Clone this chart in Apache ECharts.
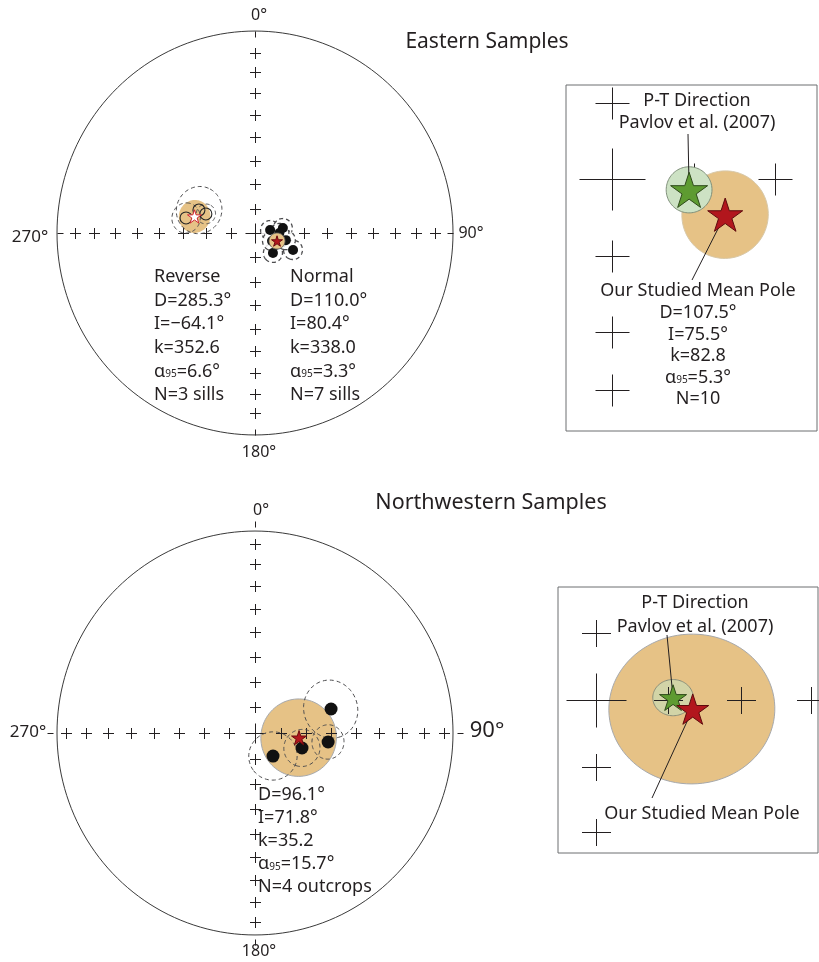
<!DOCTYPE html>
<html>
<head>
<meta charset="utf-8">
<script src="https://cdn.jsdelivr.net/npm/echarts@6/dist/echarts.min.js"></script>
<style>
  html, body { margin: 0; padding: 0; background: #fff; }
  #chart { width: 819px; height: 962px; }
</style>
</head>
<body>
<div id="chart"></div>
<script>
// ---------------- data ----------------
const azimuthLabels = ['0°', '90°', '180°', '270°'];
const graticuleInc = [80, 70, 60, 50, 40, 30, 20, 10];

// Eastern samples, site means: [declination, inclination, alpha95]
const eastNormalSites = [[138, 79.0, 3.9], [114, 72.9, 3.9], [79, 83.7, 3.9], [80, 78.4, 3.9],
                         [115, 82.3, 3.9], [103, 77.0, 3.9], [90, 80.0, 3.9]];
const eastReverseSites = [[282.3, -60.8, 6.0], [292.3, -65.0, 9.5], [291.2, -68.3, 4.0]];
// polarity means: [D, I, k, alpha95, N]
const eastNormalStat = [110.0, 80.4, 338.0, 3.3, 7];
const eastReverseStat = [285.3, -64.1, 352.6, 6.6, 3];
// combined eastern mean pole and the P-T reference direction (Pavlov et al., 2007)
const eastMeanStat = [107.5, 75.5, 82.8, 5.3, 10];
const ptDirectionEast = [98, 80.5, 2.8];

// Northwestern samples, outcrop means: [declination, inclination, alpha95]
const nwSites = [[72.5, 56.9, 11.5], [97, 59.5, 6.8], [107.7, 69.7, 7.5], [142, 78.0, 9.9]];
const nwStat = [96.1, 71.8, 35.2, 15.7, 4];
const ptDirectionNW = [88, 75.6, 3.8];

// graticule crosses of the enlarged views: [declination, inclination]
const insetEastCrosses = [[0, 80.7], [90, 80], [90, 70], [180, 80.6], [180, 71.3], [180, 64.1]];
const insetNWCrosses = [[0, 75.8], [90, 76.6], [90, 62.8], [90, 49.1], [180, 75.8], [180, 61.8]];

// ---------------- projection helpers ----------------
const D2R = Math.PI / 180;
// Lambert equal-area (Schmidt) projection, unit primitive circle, north up
function project(dec, inc) {
  const r = Math.SQRT2 * Math.sin((90 - Math.abs(inc)) / 2 * D2R);
  return [r * Math.sin(dec * D2R), r * Math.cos(dec * D2R)];
}
function cross3(a, b) {
  return [a[1] * b[2] - a[2] * b[1], a[2] * b[0] - a[0] * b[2], a[0] * b[1] - a[1] * b[0]];
}
// cone of confidence around (dec, inc) projected as a closed outline
function smallCircle(dec, inc, alpha, n = 96) {
  const ia = Math.abs(inc) * D2R, d = dec * D2R, a = alpha * D2R;
  const p = [Math.cos(ia) * Math.sin(d), Math.cos(ia) * Math.cos(d), Math.sin(ia)];
  const u = [Math.cos(d), -Math.sin(d), 0];
  const v = cross3(p, u);
  const pts = [];
  for (let k = 0; k < n; k++) {
    const t = 2 * Math.PI * k / n;
    const q = [0, 1, 2].map(j => p[j] * Math.cos(a) + (u[j] * Math.cos(t) + v[j] * Math.sin(t)) * Math.sin(a));
    const qi = Math.asin(Math.max(-1, Math.min(1, q[2]))) / D2R;
    const qd = Math.atan2(q[0], q[1]) / D2R;
    pts.push(project(qd, qi));
  }
  return pts;
}
function starPath() {
  let s = '';
  for (let k = 0; k < 10; k++) {
    const r = k % 2 ? 0.382 : 1;
    const a = Math.PI / 5 * k;
    s += (k ? 'L' : 'M') + (r * Math.sin(a)).toFixed(4) + ',' + (-r * Math.cos(a)).toFixed(4);
  }
  return 'path://' + s + 'Z';
}
const STAR = starPath();

// ---------------- styling ----------------
const FONT = '"Noto Sans", "DejaVu Sans", sans-serif';
const INK = '#231f20';
const ORANGE = '#e6c286';
const RED = '#b2161d';
const GREEN = '#5e9b31';
const PALE_GREEN = '#cde2c4';
const TEXT_SIZE = 18;

// ---------------- series builders ----------------
function withPos(list) { return list.map(s => [...project(s[0], s[1]), s[0], s[1], s[2]]); }

function coneSeries(g, list, style, z) {
  return {
    type: 'custom', coordinateSystem: 'cartesian2d', xAxisIndex: g, yAxisIndex: g, z,
    silent: true, animation: false, clip: false,
    data: withPos(list),
    renderItem: (params, api) => ({
      type: 'polygon',
      shape: { points: smallCircle(api.value(2), api.value(3), api.value(4)).map(pt => api.coord(pt)) },
      style: Object.assign({}, style)
    })
  };
}

function crossSeries(g, items, z) {
  return {
    type: 'custom', coordinateSystem: 'cartesian2d', xAxisIndex: g, yAxisIndex: g, z,
    silent: true, animation: false, clip: false,
    data: items,
    renderItem: (params, api) => {
      const c = api.coord([api.value(0), api.value(1)]);
      const x = Math.round(c[0]) + 0.5, y = Math.round(c[1]) + 0.5;
      const hw = api.value(2), hh = api.value(3);
      const st = { stroke: INK, lineWidth: 1 };
      return {
        type: 'group', children: [
          { type: 'line', shape: { x1: x - hw, y1: y, x2: x + hw, y2: y }, style: st },
          { type: 'line', shape: { x1: x, y1: y - hh, x2: x, y2: y + hh }, style: st }
        ]
      };
    }
  };
}

// crosses every 10 degrees of inclination along the four cardinal directions
function graticule(scale) {
  const out = [];
  [0, 90, 180, 270].forEach(d => graticuleInc.forEach(i => {
    const p = project(d, i);
    out.push([p[0] * scale, p[1] * scale, 5.5, 5.5]);
  }));
  out.push([0, 0, 10, 10]);
  return out;
}

function primitiveSeries(g, stretchY, tick0, tick1) {
  return {
    type: 'custom', coordinateSystem: 'cartesian2d', xAxisIndex: g, yAxisIndex: g, z: 1,
    silent: true, animation: false, clip: false,
    data: [[0, 0]],
    renderItem: (params, api) => {
      const pts = [];
      for (let k = 0; k <= 360; k += 2) {
        pts.push(api.coord([Math.sin(k * D2R), Math.cos(k * D2R) * stretchY]));
      }
      const children = [{ type: 'polyline', shape: { points: pts }, style: { stroke: '#3a3a3a', lineWidth: 1, fill: null } }];
      [0, 90, 180, 270].forEach(d => {
        const s = Math.sin(d * D2R), c = Math.cos(d * D2R) * stretchY;
        const a = api.coord([s * tick0, c * tick0]);
        const b = api.coord([s * tick1, c * tick1]);
        children.push({ type: 'line', shape: { x1: Math.round(a[0]) + 0.5, y1: Math.round(a[1]) + 0.5, x2: Math.round(b[0]) + 0.5, y2: Math.round(b[1]) + 0.5 }, style: { stroke: INK, lineWidth: 1 } });
      });
      return { type: 'group', children };
    }
  };
}

function dotSeries(g, list, size, itemStyle, z) {
  return {
    type: 'scatter', xAxisIndex: g, yAxisIndex: g, z, silent: true, animation: false,
    symbol: 'circle', symbolSize: size,
    data: list.map(s => project(s[0], s[1])),
    itemStyle: Object.assign({ opacity: 1 }, itemStyle)
  };
}

function starSeries(g, dir, size, color, border, z) {
  return {
    type: 'scatter', xAxisIndex: g, yAxisIndex: g, z, silent: true, animation: false,
    symbol: STAR, symbolKeepAspect: true, symbolSize: size,
    data: [project(dir[0], dir[1])],
    itemStyle: { color, borderColor: border, borderWidth: 1, opacity: 1 }
  };
}

// leader line from a plotted direction to a fixed label anchor (pixels)
function leaderSeries(g, dir, anchor, z) {
  return {
    type: 'custom', coordinateSystem: 'cartesian2d', xAxisIndex: g, yAxisIndex: g, z,
    silent: true, animation: false, clip: false,
    data: [project(dir[0], dir[1])],
    renderItem: (params, api) => {
      const c = api.coord([api.value(0), api.value(1)]);
      return { type: 'line', shape: { x1: c[0], y1: c[1], x2: anchor[0], y2: anchor[1] }, style: { stroke: INK, lineWidth: 1 } };
    }
  };
}

// ---------------- layout ----------------
const mainGrids = [
  { left: 57, top: 35, width: 396, height: 396 },
  { left: 57, top: 535, width: 396, height: 396 }
];
const insets = [
  { left: 566, top: 85, width: 251, height: 346, ox: 612, oy: 179, sx: 665, sy: 665 },
  { left: 558, top: 587, width: 260, height: 266, ox: 596, oy: 700, sx: 435, sy: 383 }
];

const grids = [], xAxes = [], yAxes = [];
mainGrids.forEach((g, i) => {
  grids.push(Object.assign({ show: false }, g));
  xAxes.push({ type: 'value', gridIndex: i, min: -1, max: 1, show: false });
  yAxes.push({ type: 'value', gridIndex: i, min: -1, max: 1, show: false });
});
insets.forEach((b, j) => {
  const i = j + 2;
  grids.push({ left: b.left, top: b.top, width: b.width, height: b.height, show: true,
               borderColor: '#6d6e71', borderWidth: 1, backgroundColor: 'transparent' });
  xAxes.push({ type: 'value', gridIndex: i, show: false,
               min: (b.left - b.ox) / b.sx, max: (b.left + b.width - b.ox) / b.sx });
  yAxes.push({ type: 'value', gridIndex: i, show: false,
               min: -(b.top + b.height - b.oy) / b.sy, max: (b.oy - b.top) / b.sy });
});

function insetCrosses(list, small, big) {
  const out = list.map(c => [...project(c[0], c[1]), small[0], small[1]]);
  out.push([0, 0, big[0], big[1]]);
  return out;
}
function meanCone(stat) { return [stat[0], stat[1], stat[3]]; }

const dashed = { stroke: '#4d4d4f', lineWidth: 1, lineDash: [4, 3], fill: null };

const series = [
  // ---- Eastern stereonet ----
  primitiveSeries(0, 1.02, 0.97, 1.0),
  coneSeries(0, [meanCone(eastReverseStat)], { fill: ORANGE, stroke: null }, 2),
  crossSeries(0, graticule(1.0), 3),
  coneSeries(0, eastReverseSites, dashed, 4),
  dotSeries(0, eastReverseSites, 12, { color: 'rgba(0,0,0,0)', borderColor: '#262626', borderWidth: 1.1 }, 5),
  coneSeries(0, eastNormalSites, Object.assign({}, dashed, { fill: 'rgba(255,255,255,0.85)', lineWidth: 1.3 }), 4),
  dotSeries(0, eastNormalSites, 10, { color: '#111' }, 5),
  coneSeries(0, [meanCone(eastNormalStat)], { fill: ORANGE, stroke: '#555', lineWidth: 1 }, 6),
  starSeries(0, eastNormalStat, 11, RED, '#6b0a0e', 7),
  starSeries(0, eastReverseStat, 14, '#ffffff', '#d0262d', 7),

  // ---- Northwestern stereonet ----
  primitiveSeries(1, 1.02, 1.02, 1.05),
  coneSeries(1, [meanCone(nwStat)], { fill: ORANGE, stroke: '#a7a9ac', lineWidth: 1 }, 2),
  crossSeries(1, graticule(1.05), 3),
  coneSeries(1, nwSites, dashed, 4),
  dotSeries(1, nwSites, 13, { color: '#111' }, 5),
  starSeries(1, nwStat, 15, RED, '#6b0a0e', 7),

  // ---- enlarged view, eastern ----
  crossSeries(2, insetCrosses(insetEastCrosses, [17, 16], [33, 31]), 2),
  coneSeries(2, [meanCone(eastMeanStat)], { fill: ORANGE, stroke: '#d8c8a8', lineWidth: 1 }, 3),
  coneSeries(2, [ptDirectionEast], { fill: PALE_GREEN, stroke: '#7f8f7a', lineWidth: 1 }, 4),
  leaderSeries(2, ptDirectionEast, [688, 134], 5),
  leaderSeries(2, eastMeanStat, [692, 280], 5),
  starSeries(2, ptDirectionEast, 37, GREEN, '#2f4a1b', 7),
  starSeries(2, eastMeanStat, 35, RED, '#5e0a0d', 7),

  // ---- enlarged view, northwestern ----
  coneSeries(3, [meanCone(nwStat)], { fill: ORANGE, stroke: '#a7a9ac', lineWidth: 1 }, 2),
  coneSeries(3, [ptDirectionNW], { fill: 'rgba(197,223,190,0.6)', stroke: '#8a8f7a', lineWidth: 1 }, 3),
  crossSeries(3, insetCrosses(insetNWCrosses, [14.5, 13.5], [30, 27]), 4),
  leaderSeries(3, ptDirectionNW, [667, 635], 6),
  leaderSeries(3, nwStat, [652, 798], 6),
  starSeries(3, ptDirectionNW, 27, GREEN, '#2f4a1b', 7),
  starSeries(3, nwStat, 32, RED, '#5e0a0d', 7)
];

// ---------------- text ----------------
function fmt(v) { return (v < 0 ? '\u2212' : '') + Math.abs(v).toFixed(1); }
function statLines(s, nLabel) {
  return [
    'D=' + fmt(s[0]) + '°',
    'I=' + fmt(s[1]) + '°',
    'k=' + fmt(s[2]),
    '{a|\u03b1}{s|95}{a|=' + fmt(s[3]) + '°}',
    'N=' + s[4] + (nLabel ? ' ' + nLabel : '')
  ];
}
const rich = {
  a: { font: TEXT_SIZE + 'px ' + FONT, fill: INK },
  s: { font: '10px ' + FONT, fill: INK, padding: [6, 0, 0, 0] }
};
function txt(x, y, text, size, align) {
  return {
    type: 'text', x, y, silent: true, z: 10,
    style: { text, font: size + 'px ' + FONT, fill: INK, align: align || 'center', verticalAlign: 'middle', rich }
  };
}
function block(x, y0, step, lines, align) {
  return lines.map((t, k) => txt(x, y0 + k * step, t, TEXT_SIZE, align));
}

const graphic = [
  // eastern stereonet
  txt(259, 15, azimuthLabels[0], 16), txt(471, 233, azimuthLabels[1], 16),
  txt(259, 452, azimuthLabels[2], 16), txt(30, 237, azimuthLabels[3], 17),
  txt(487, 42, 'Eastern Samples', 21),
  ...block(154, 277, 23.6, ['Reverse', ...statLines(eastReverseStat, 'sills')], 'left'),
  ...block(290, 277, 23.6, ['Normal', ...statLines(eastNormalStat, 'sills')], 'left'),
  // northwestern stereonet
  txt(261, 510, azimuthLabels[0], 16), txt(487, 731, azimuthLabels[1], 22),
  txt(259, 951, azimuthLabels[2], 16), txt(28, 732, azimuthLabels[3], 17),
  txt(491, 503, 'Northwestern Samples', 21.5),
  ...block(258, 795, 23, statLines(nwStat, 'outcrops'), 'left'),
  // eastern enlarged view
  txt(697, 101, 'P-T Direction', TEXT_SIZE), txt(697, 123, 'Pavlov et al. (2007)', TEXT_SIZE),
  txt(698, 291, 'Our Studied Mean Pole', TEXT_SIZE),
  ...block(698, 313, 21.5, statLines(eastMeanStat, ''), 'center'),
  // northwestern enlarged view
  txt(695, 603, 'P-T Direction', TEXT_SIZE), txt(695, 627, 'Pavlov et al. (2007)', TEXT_SIZE),
  txt(702, 814, 'Our Studied Mean Pole', TEXT_SIZE)
];

const chart = echarts.init(document.getElementById('chart'), null, { renderer: 'canvas' });
chart.setOption({
  backgroundColor: '#ffffff',
  animation: false,
  grid: grids,
  xAxis: xAxes,
  yAxis: yAxes,
  series,
  graphic
});
</script>
</body>
</html>
